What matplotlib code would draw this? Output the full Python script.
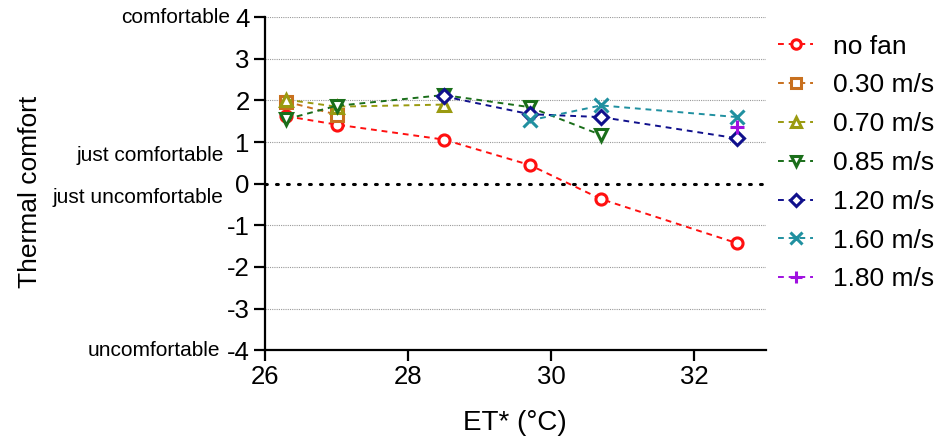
import matplotlib.pyplot as plt

plt.rcParams["font.family"] = ["Liberation Sans", "DejaVu Sans"]
plt.rcParams["axes.unicode_minus"] = False

# ET* temperatures and comfort votes per air speed
x_nofan = [26.3, 27.0, 28.5, 29.7, 30.7, 32.6]
y_nofan = [1.62, 1.42, 1.06, 0.45, -0.37, -1.43]
x_030 = [26.3, 27.0]
y_030 = [1.97, 1.66]
x_070 = [26.3, 27.0, 28.5]
y_070 = [2.02, 1.85, 1.90]
x_085 = [26.3, 27.0, 28.5, 29.7, 30.7]
y_085 = [1.55, 1.87, 2.13, 1.84, 1.17]
x_120 = [28.5, 29.7, 30.7, 32.6]
y_120 = [2.10, 1.67, 1.60, 1.09]
x_160 = [29.7, 30.7, 32.6]
y_160 = [1.52, 1.88, 1.60]
x_180 = [32.6]
y_180 = [1.36]

labels = ["no fan", "0.30 m/s", "0.70 m/s", "0.85 m/s", "1.20 m/s", "1.60 m/s", "1.80 m/s"]
comfort_labels = ["comfortable", "just comfortable", "just uncomfortable", "uncomfortable"]
comfort_pos = [4, 0.67, -0.33, -4]

series = [
    (x_nofan, y_nofan, "#FF1010", "o"),
    (x_030, y_030, "#C8701E", "s"),
    (x_070, y_070, "#9A9A10", "^"),
    (x_085, y_085, "#1A6E1A", "v"),
    (x_120, y_120, "#10108C", "D"),
    (x_160, y_160, "#2090A0", "x"),
    (x_180, y_180, "#A010E0", "+"),
]

fig = plt.figure(figsize=(9.41, 4.41), dpi=100)
ax = fig.add_axes([0.2816, 0.206, 0.532, 0.755])

# grid lines
for yv in [-4, -3, -2, -1, 1, 2, 3, 4]:
    ax.axhline(yv, color="#999999", lw=0.8, ls=(0, (1, 1)), zorder=0)
ax.axhline(0, color="black", lw=2.2, ls=(0, (0.6, 3)), dash_capstyle="round", zorder=1)

for (xs, ys, c, m), lab in zip(series, labels):
    ms = 7 if m == "D" else 8
    if m in ("x", "+"):
        ms = 10
    ax.plot(xs, ys, ls=(0, (3, 2.5)), lw=1.4, color=c, marker=m, ms=ms,
            mfc="white" if m not in ("x", "+") else c, mec=c, mew=2.2, label=lab, zorder=3)

ax.set_xlim(26, 33)
ax.set_ylim(-4, 4)
ax.set_xticks([26, 28, 30, 32])
ax.set_yticks(range(-4, 5))
ax.spines["top"].set_visible(False)
ax.spines["right"].set_visible(False)
ax.spines["left"].set_linewidth(1.6)
ax.spines["bottom"].set_linewidth(1.6)
ax.tick_params(direction="out", length=8, width=1.6, labelsize=18.5, pad=3)
ax.set_xlabel("ET* (°C)", fontsize=20, labelpad=15)
fig.text(0.032, 0.565, "Thermal comfort", rotation=90, fontsize=19, ha="center", va="center")

offsets = [-0.07, -0.083, -0.083, -0.09]
for t, yv, off in zip(comfort_labels, comfort_pos, offsets):
    ax.text(off, yv, t, transform=ax.get_yaxis_transform(), ha="right", va="center", fontsize=15)

ax.legend(loc="upper left", bbox_to_anchor=(0.994, 0.995), frameon=False, fontsize=19,
          handlelength=1.3, labelspacing=0.56, handletextpad=0.75, borderaxespad=0.2,
          markerscale=0.85)

fig.savefig("out.png", dpi=100)
